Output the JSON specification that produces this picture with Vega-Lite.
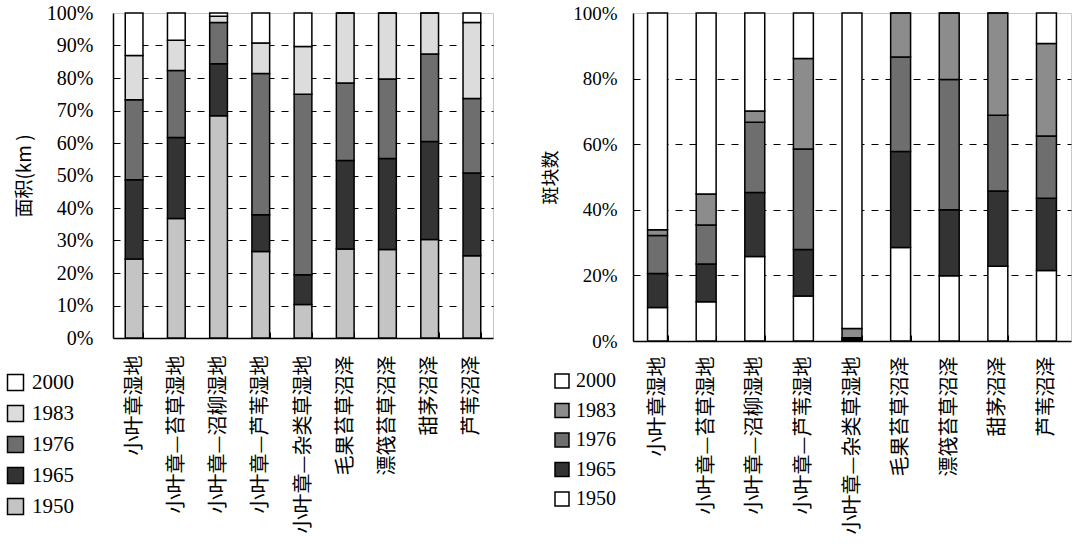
{
  "$schema": "https://vega.github.io/schema/vega-lite/v6.json",
  "padding": {"left": 4, "top": 2, "right": 5, "bottom": 3},
  "background": "white",
  "datasets": {
    "area": [
      {"type": "小叶章湿地", "year": "1950", "value": 24.3},
      {"type": "小叶章湿地", "year": "1965", "value": 24.4},
      {"type": "小叶章湿地", "year": "1976", "value": 24.6},
      {"type": "小叶章湿地", "year": "1983", "value": 13.6},
      {"type": "小叶章湿地", "year": "2000", "value": 13.1},
      {"type": "小叶章—苔草湿地", "year": "1950", "value": 36.8},
      {"type": "小叶章—苔草湿地", "year": "1965", "value": 24.9},
      {"type": "小叶章—苔草湿地", "year": "1976", "value": 20.6},
      {"type": "小叶章—苔草湿地", "year": "1983", "value": 9.3},
      {"type": "小叶章—苔草湿地", "year": "2000", "value": 8.4},
      {"type": "小叶章—沼柳湿地", "year": "1950", "value": 68.4},
      {"type": "小叶章—沼柳湿地", "year": "1965", "value": 16.0},
      {"type": "小叶章—沼柳湿地", "year": "1976", "value": 12.7},
      {"type": "小叶章—沼柳湿地", "year": "1983", "value": 1.9},
      {"type": "小叶章—沼柳湿地", "year": "2000", "value": 1.0},
      {"type": "小叶章—芦苇湿地", "year": "1950", "value": 26.6},
      {"type": "小叶章—芦苇湿地", "year": "1965", "value": 11.3},
      {"type": "小叶章—芦苇湿地", "year": "1976", "value": 43.5},
      {"type": "小叶章—芦苇湿地", "year": "1983", "value": 9.4},
      {"type": "小叶章—芦苇湿地", "year": "2000", "value": 9.2},
      {"type": "小叶章—杂类草湿地", "year": "1950", "value": 10.3},
      {"type": "小叶章—杂类草湿地", "year": "1965", "value": 9.2},
      {"type": "小叶章—杂类草湿地", "year": "1976", "value": 55.5},
      {"type": "小叶章—杂类草湿地", "year": "1983", "value": 14.7},
      {"type": "小叶章—杂类草湿地", "year": "2000", "value": 10.3},
      {"type": "毛果苔草沼泽", "year": "1950", "value": 27.4},
      {"type": "毛果苔草沼泽", "year": "1965", "value": 27.2},
      {"type": "毛果苔草沼泽", "year": "1976", "value": 23.9},
      {"type": "毛果苔草沼泽", "year": "1983", "value": 21.5},
      {"type": "毛果苔草沼泽", "year": "2000", "value": 0},
      {"type": "漂筏苔草沼泽", "year": "1950", "value": 27.2},
      {"type": "漂筏苔草沼泽", "year": "1965", "value": 28.0},
      {"type": "漂筏苔草沼泽", "year": "1976", "value": 24.5},
      {"type": "漂筏苔草沼泽", "year": "1983", "value": 20.3},
      {"type": "漂筏苔草沼泽", "year": "2000", "value": 0},
      {"type": "甜茅沼泽", "year": "1950", "value": 30.3},
      {"type": "甜茅沼泽", "year": "1965", "value": 30.2},
      {"type": "甜茅沼泽", "year": "1976", "value": 26.9},
      {"type": "甜茅沼泽", "year": "1983", "value": 12.6},
      {"type": "甜茅沼泽", "year": "2000", "value": 0},
      {"type": "芦苇沼泽", "year": "1950", "value": 25.3},
      {"type": "芦苇沼泽", "year": "1965", "value": 25.5},
      {"type": "芦苇沼泽", "year": "1976", "value": 22.9},
      {"type": "芦苇沼泽", "year": "1983", "value": 23.4},
      {"type": "芦苇沼泽", "year": "2000", "value": 2.9}
    ],
    "patch": [
      {"type": "小叶章湿地", "year": "1950", "value": 10.2},
      {"type": "小叶章湿地", "year": "1965", "value": 10.4},
      {"type": "小叶章湿地", "year": "1976", "value": 11.6},
      {"type": "小叶章湿地", "year": "1983", "value": 1.7},
      {"type": "小叶章湿地", "year": "2000", "value": 66.1},
      {"type": "小叶章—苔草湿地", "year": "1950", "value": 12.0},
      {"type": "小叶章—苔草湿地", "year": "1965", "value": 11.5},
      {"type": "小叶章—苔草湿地", "year": "1976", "value": 11.9},
      {"type": "小叶章—苔草湿地", "year": "1983", "value": 9.4},
      {"type": "小叶章—苔草湿地", "year": "2000", "value": 55.2},
      {"type": "小叶章—沼柳湿地", "year": "1950", "value": 25.8},
      {"type": "小叶章—沼柳湿地", "year": "1965", "value": 19.5},
      {"type": "小叶章—沼柳湿地", "year": "1976", "value": 21.4},
      {"type": "小叶章—沼柳湿地", "year": "1983", "value": 3.4},
      {"type": "小叶章—沼柳湿地", "year": "2000", "value": 29.9},
      {"type": "小叶章—芦苇湿地", "year": "1950", "value": 13.7},
      {"type": "小叶章—芦苇湿地", "year": "1965", "value": 14.2},
      {"type": "小叶章—芦苇湿地", "year": "1976", "value": 30.6},
      {"type": "小叶章—芦苇湿地", "year": "1983", "value": 27.6},
      {"type": "小叶章—芦苇湿地", "year": "2000", "value": 13.9},
      {"type": "小叶章—杂类草湿地", "year": "1950", "value": 0.2},
      {"type": "小叶章—杂类草湿地", "year": "1965", "value": 0.4},
      {"type": "小叶章—杂类草湿地", "year": "1976", "value": 0.4},
      {"type": "小叶章—杂类草湿地", "year": "1983", "value": 2.8},
      {"type": "小叶章—杂类草湿地", "year": "2000", "value": 96.2},
      {"type": "毛果苔草沼泽", "year": "1950", "value": 28.5},
      {"type": "毛果苔草沼泽", "year": "1965", "value": 29.3},
      {"type": "毛果苔草沼泽", "year": "1976", "value": 28.8},
      {"type": "毛果苔草沼泽", "year": "1983", "value": 13.4},
      {"type": "毛果苔草沼泽", "year": "2000", "value": 0},
      {"type": "漂筏苔草沼泽", "year": "1950", "value": 19.9},
      {"type": "漂筏苔草沼泽", "year": "1965", "value": 20.1},
      {"type": "漂筏苔草沼泽", "year": "1976", "value": 39.7},
      {"type": "漂筏苔草沼泽", "year": "1983", "value": 20.3},
      {"type": "漂筏苔草沼泽", "year": "2000", "value": 0},
      {"type": "甜茅沼泽", "year": "1950", "value": 22.8},
      {"type": "甜茅沼泽", "year": "1965", "value": 22.9},
      {"type": "甜茅沼泽", "year": "1976", "value": 23.1},
      {"type": "甜茅沼泽", "year": "1983", "value": 31.2},
      {"type": "甜茅沼泽", "year": "2000", "value": 0},
      {"type": "芦苇沼泽", "year": "1950", "value": 21.5},
      {"type": "芦苇沼泽", "year": "1965", "value": 22.0},
      {"type": "芦苇沼泽", "year": "1976", "value": 19.0},
      {"type": "芦苇沼泽", "year": "1983", "value": 28.2},
      {"type": "芦苇沼泽", "year": "2000", "value": 9.3}
    ]
  },
  "spacing": 48,
  "resolve": {"scale": {"color": "independent"}, "legend": {"color": "independent"}},
  "config": {
    "view": {"stroke": "#c8c8c8", "strokeWidth": 1},
    "axis": {
      "domainColor": "black",
      "domainWidth": 1.5,
      "labelColor": "black",
      "titleColor": "black",
      "titleFontWeight": "normal"
    },
    "legend": {"labelColor": "black", "labelFont": "Liberation Serif"}
  },
  "hconcat": [
    {
      "data": {"name": "area"},
      "width": 380,
      "height": 325,
      "mark": {"type": "bar", "stroke": "black", "strokeWidth": 1.5},
      "encoding": {
        "x": {
          "field": "type",
          "type": "nominal",
          "sort": null,
          "scale": {"paddingInner": 0.58, "paddingOuter": 0.29},
          "axis": {
            "title": null,
            "labelAngle": -90,
            "labelFont": "Noto Sans CJK SC",
            "labelFontSize": 20,
            "labelPadding": 23,
            "labelLimit": 400,
            "ticks": true,
            "tickBand": "extent",
            "tickSize": -6,
            "tickColor": "black",
            "grid": false
          }
        },
        "y": {
          "field": "value",
          "type": "quantitative",
          "stack": "normalize",
          "scale": {"domain": [0, 1]},
          "axis": {
            "title": "面积(km )",
            "titleFont": "Noto Sans CJK SC",
            "titleFontSize": 19,
            "titlePadding": 12,
            "labelFont": "Liberation Serif",
            "labelFontSize": 20,
            "labelPadding": 20,
            "format": ".0%",
            "values": [0, 0.1, 0.2, 0.3, 0.4, 0.5, 0.6, 0.7, 0.8, 0.9, 1],
            "ticks": false,
            "grid": true,
            "gridColor": "black",
            "gridDash": [7, 7],
            "gridWidth": 1,
            "gridOpacity": {"condition": {"test": "datum.value >= 1 || datum.value <= 0", "value": 0}, "value": 1}
          }
        },
        "color": {
          "field": "year",
          "type": "nominal",
          "scale": {
            "domain": ["2000", "1983", "1976", "1965", "1950"],
            "range": ["#ffffff", "#dcdcdc", "#6e6e6e", "#333333", "#c4c4c4"]
          },
          "legend": {
            "title": null,
            "orient": "none",
            "legendX": -108,
            "legendY": 359,
            "symbolType": "square",
            "symbolSize": 256,
            "symbolStrokeColor": "black",
            "symbolStrokeWidth": 1.5,
            "symbolOpacity": 1,
            "labelFont": "Liberation Serif",
            "labelFontSize": 21,
            "labelOffset": 6,
            "rowPadding": 8
          }
        },
        "order": {"field": "year", "type": "ordinal", "sort": "ascending"}
      }
    },
    {
      "data": {"name": "patch"},
      "width": 438,
      "height": 328,
      "mark": {"type": "bar", "stroke": "black", "strokeWidth": 1.5},
      "encoding": {
        "x": {
          "field": "type",
          "type": "nominal",
          "sort": null,
          "scale": {"paddingInner": 0.59, "paddingOuter": 0.3},
          "axis": {
            "title": null,
            "labelAngle": -90,
            "labelFont": "Noto Sans CJK SC",
            "labelFontSize": 20,
            "labelPadding": 21,
            "labelLimit": 400,
            "ticks": true,
            "tickBand": "extent",
            "tickSize": -6,
            "tickColor": "black",
            "grid": false
          }
        },
        "y": {
          "field": "value",
          "type": "quantitative",
          "stack": "normalize",
          "scale": {"domain": [0, 1]},
          "axis": {
            "title": "斑块数",
            "titleFont": "Noto Sans CJK SC",
            "titleFontSize": 18,
            "titlePadding": 12,
            "labelFont": "Liberation Serif",
            "labelFontSize": 19,
            "labelPadding": 16,
            "format": ".0%",
            "values": [0, 0.2, 0.4, 0.6, 0.8, 1],
            "ticks": false,
            "grid": true,
            "gridColor": "black",
            "gridDash": [7, 7],
            "gridWidth": 1,
            "gridOpacity": {"condition": {"test": "datum.value >= 1 || datum.value <= 0", "value": 0}, "value": 1}
          }
        },
        "color": {
          "field": "year",
          "type": "nominal",
          "scale": {
            "domain": ["2000", "1983", "1976", "1965", "1950"],
            "range": ["#ffffff", "#8c8c8c", "#6e6e6e", "#333333", "#ffffff"]
          },
          "legend": {
            "title": null,
            "orient": "none",
            "legendX": -81,
            "legendY": 358,
            "symbolType": "square",
            "symbolSize": 196,
            "symbolStrokeColor": "black",
            "symbolStrokeWidth": 1.5,
            "symbolOpacity": 1,
            "labelFont": "Liberation Serif",
            "labelFontSize": 20,
            "labelOffset": 4,
            "rowPadding": 9.5
          }
        },
        "order": {"field": "year", "type": "ordinal", "sort": "ascending"}
      }
    }
  ]
}
